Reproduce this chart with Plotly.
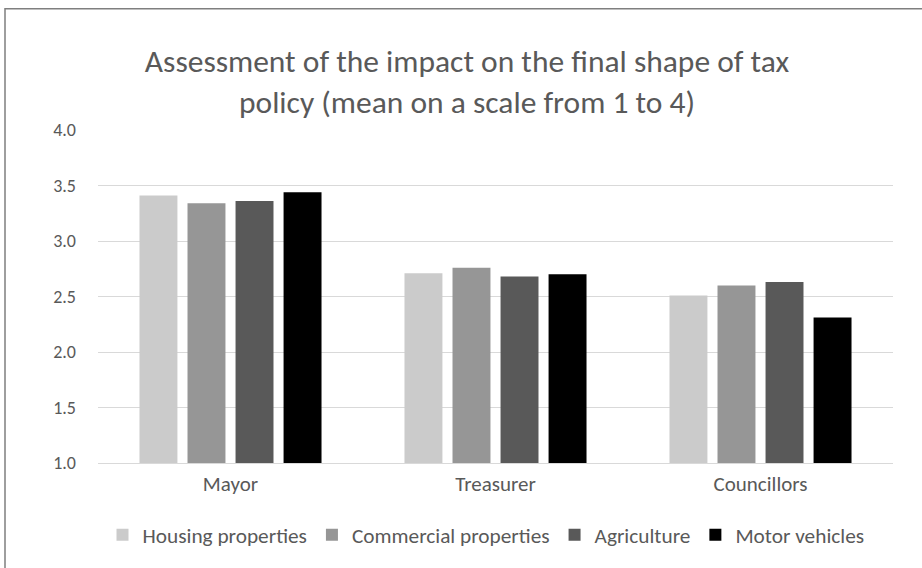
import plotly.graph_objects as go

categories = ["Mayor", "Treasurer", "Councillors"]
series_names = ["Housing properties", "Commercial properties", "Agriculture", "Motor vehicles"]
housing = [3.41, 2.71, 2.51]
commercial = [3.34, 2.76, 2.60]
agriculture = [3.36, 2.68, 2.63]
motor = [3.44, 2.70, 2.31]
y_ticks = [1.0, 1.5, 2.0, 2.5, 3.0, 3.5, 4.0]
y_tick_labels = ["1.0", "1.5", "2.0", "2.5", "3.0", "3.5", "4.0"]

colors = ["#cbcbcb", "#969696", "#595959", "#000000"]
values = [housing, commercial, agriculture, motor]

FONT = "Carlito, Calibri, Lato, sans-serif"

fig = go.Figure()
for name, vals, col in zip(series_names, values, colors):
    fig.add_trace(go.Bar(
        x=categories, y=vals, name=name,
        marker=dict(color=col, line=dict(width=0)),
        base=0,
    ))

W, H = 922, 568
# target plot area in page pixels
px0, px1, py0, py1 = 98, 893, 129.5, 463
l, r = px0, W - px1
t, b = py0, H - py1

def fx(vx):
    return (vx - px0) / (px1 - px0)

def fy(vy):
    return (py1 - vy) / (py1 - py0)

fig.update_layout(
    width=W, height=H,
    margin=dict(l=l, r=r, t=t, b=b),
    paper_bgcolor="white", plot_bgcolor="white",
    barmode="group", bargap=0.275, bargroupgap=0.21,
    font=dict(family=FONT, color="#595959", size=20),
    title=dict(
        text="Assessment of the impact on the final shape of tax<br>policy (mean on a scale from 1 to 4)",
        x=467 / W, xanchor="center", y=1 - 72 / H, yanchor="middle",
        font=dict(family=FONT, size=31.5, color="#595959"),
    ),
    xaxis=dict(showgrid=False, showline=True, linecolor="#d9d9d9", linewidth=1,
               ticks="", ticklabelstandoff=2, tickfont=dict(size=21, color="#595959")),
    yaxis=dict(range=[1.0, 4.0], tickvals=y_ticks, ticktext=y_tick_labels,
               showgrid=True, gridcolor="#d9d9d9", gridwidth=1,
               zeroline=False, showline=False, ticks="", ticklabelstandoff=21,
               tickfont=dict(size=18, color="#595959")),
    legend=dict(orientation="h", x=fx(486), xanchor="center",
                y=fy(535), yanchor="middle",
                font=dict(size=21.3, color="#595959"), itemwidth=30,
                traceorder="normal"),
    showlegend=True,
    shapes=[dict(type="rect", xref="paper", yref="paper",
                 x0=fx(5), x1=fx(940),
                 y0=fy(590), y1=fy(8),
                 line=dict(color="#7f7f7f", width=1.5), fillcolor="rgba(0,0,0,0)",
                 layer="below")],
)

fig.write_html("out.html", config={"displayModeBar": False},
               post_script="document.body.style.margin='0px';")
